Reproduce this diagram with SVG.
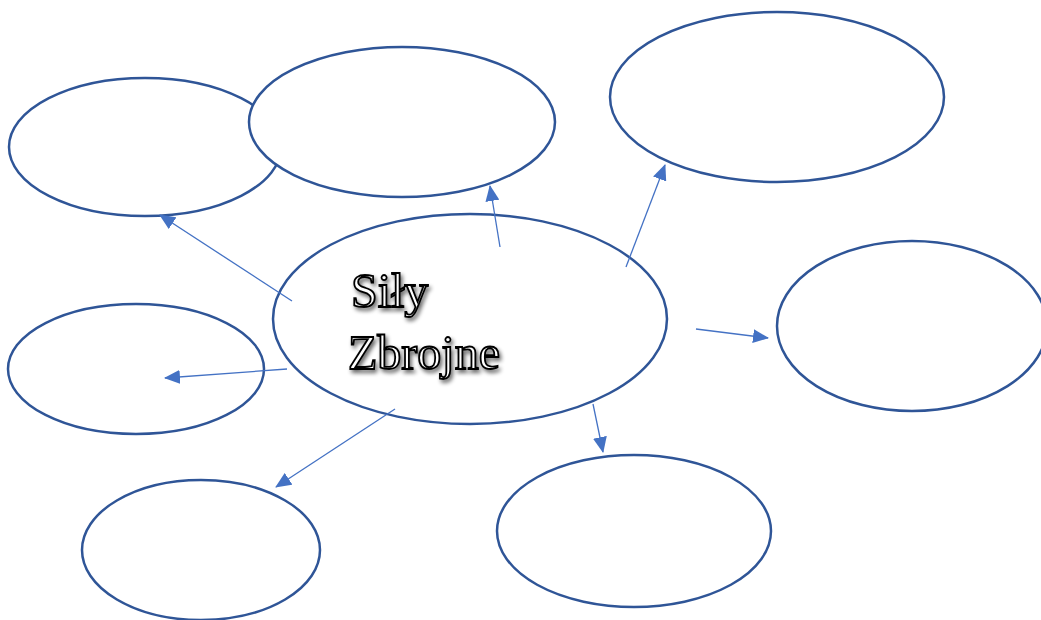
<svg xmlns="http://www.w3.org/2000/svg" width="1041" height="620" viewBox="0 0 1041 620">
<style>
.n{fill:#fff;stroke:#2F5597;stroke-width:2.5}
.c line{stroke:#4472C4;stroke-width:1.3;marker-end:url(#ah)}
.t{font-family:"Liberation Serif",serif;font-size:48px;fill:#fff;stroke:#000;stroke-width:1.8;filter:url(#sh)}
</style>
<defs>
<marker id="ah" markerWidth="16" markerHeight="14" refX="15" refY="7" orient="auto" markerUnits="userSpaceOnUse" viewBox="0 0 16 14">
<path d="M0,0 L16,7 L0,14 z" fill="#4472C4"/>
</marker>
<filter id="sh" x="-10%" y="-20%" width="130%" height="150%">
<feGaussianBlur in="SourceAlpha" stdDeviation="2"/>
<feOffset dx="2" dy="3" result="b"/>
<feComponentTransfer><feFuncA type="linear" slope="0.6"/></feComponentTransfer>
<feMerge><feMergeNode/><feMergeNode in="SourceGraphic"/></feMerge>
</filter>
</defs>
<rect width="1041" height="620" fill="#fff"/>
<g id="n1"><ellipse class="n" cx="145" cy="147" rx="136" ry="69"/></g>
<g id="n2"><ellipse class="n" cx="402" cy="122" rx="153" ry="75"/></g>
<g id="n3"><ellipse class="n" cx="777" cy="97" rx="167" ry="85"/></g>
<g id="n4"><ellipse class="n" cx="912" cy="326" rx="135" ry="85"/></g>
<g id="n5"><ellipse class="n" cx="634" cy="531" rx="137" ry="76"/></g>
<g id="n6"><ellipse class="n" cx="201" cy="550" rx="119" ry="70"/></g>
<g id="n7"><ellipse class="n" cx="136" cy="369" rx="128" ry="65"/></g>
<g id="center"><ellipse class="n" cx="470" cy="319" rx="197" ry="105"/>
<text class="t" x="351" y="307">Siły</text>
<text class="t" x="348" y="369">Zbrojne</text>
</g>
<g id="connectors" class="c">
<line x1="292" y1="301" x2="160" y2="215"/>
<line x1="500" y1="247" x2="490" y2="186"/>
<line x1="626" y1="267" x2="665" y2="165"/>
<line x1="696" y1="329" x2="768" y2="338"/>
<line x1="593" y1="404" x2="603" y2="452"/>
<line x1="395" y1="409" x2="276" y2="487"/>
<line x1="287" y1="369" x2="165" y2="378"/>
</g>
</svg>
